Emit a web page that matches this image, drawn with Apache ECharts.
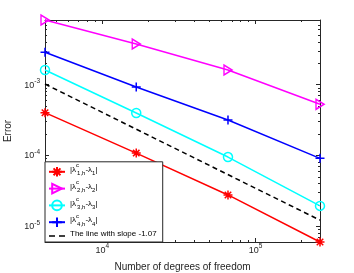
<!DOCTYPE html>
<html><head><meta charset="utf-8">
<script src="https://cdn.jsdelivr.net/npm/echarts@6/dist/echarts.min.js"></script>
<style>html,body{margin:0;padding:0;background:#fff}#c{width:354px;height:273px}</style>
</head><body><div id="c"></div>
<script>
// ---- data ----
const dofs = [4225, 16641, 66049, 263169];
const err1 = [4.02e-4, 1.08e-4, 2.77e-5, 6.0e-6];
const err2 = [8.18e-3, 3.75e-3, 1.61e-3, 5.28e-4];
const err3 = [1.61e-3, 3.98e-4, 9.5e-5, 1.94e-5];
const err4 = [2.86e-3, 9.27e-4, 3.17e-4, 9.1e-5];
const refDofs = [4225, 263169];
const refLine = [1.02e-3, 1.22e-5];
const xTickExponents = [4, 5];
const yTickExponents = [-5, -4, -3];
const seriesKeys = ['e1', 'e2', 'e3', 'e4', 'ref'];
const refLabel = 'The line with slope -1.07';
const xTitle = 'Number of degrees of freedom';
const yTitle = 'Error';

const FONT = 'Liberation Sans, Arial, Helvetica, sans-serif';
const AX = '#262626';
const L = Math.log10;

const xMin = L(Math.min(...dofs)), xMax = L(Math.max(...dofs));
const allErr = err1.concat(err2, err3, err4);
const yMin = L(Math.min(...allErr)), yMax = L(Math.max(...allErr));

function minorTicks(lo, hi) {
  const out = [];
  for (let d = Math.floor(lo) - 1; d <= Math.ceil(hi); d++) {
    for (let k = 2; k <= 9; k++) {
      const v = d + L(k);
      if (v > lo + 1e-9 && v < hi - 1e-9) out.push(v);
    }
  }
  return out;
}
const xMinor = minorTicks(xMin, xMax), yMinor = minorTicks(yMin, yMax);

const supRich = {
  b: {fontSize: 9, fontFamily: FONT, color: AX, lineHeight: 10, verticalAlign: 'bottom'},
  s: {fontSize: 6.5, fontFamily: FONT, color: AX, lineHeight: 7, padding: [0, 0, 5, 0], verticalAlign: 'bottom'}
};
function fmt(v) { return '{b|10}{s|' + Math.round(v) + '}'; }

function axis(dim, pos, ticks, len, labels, showLine, extra) {
  const isX = dim === 'x';
  return Object.assign({
    type: 'value', position: pos,
    min: isX ? xMin : yMin, max: isX ? xMax : yMax,
    axisLine: {show: showLine, onZero: false, lineStyle: {color: AX, width: 1}},
    axisTick: {show: true, inside: true, length: len, customValues: ticks, lineStyle: {color: AX, width: 1}},
    axisLabel: labels ? {show: true, customValues: labels, formatter: fmt, margin: isX ? 3 : 5, rich: supRich}
                      : {show: false},
    splitLine: {show: false}, minorTick: {show: false}
  }, extra || {});
}

const xAxes = [
  axis('x', 'bottom', xTickExponents, 4, xTickExponents, true, {
    name: xTitle, nameLocation: 'middle', nameGap: 20,
    nameTextStyle: {fontSize: 10, fontFamily: FONT, color: AX}
  }),
  axis('x', 'bottom', xMinor, 2, null, false),
  axis('x', 'top', xTickExponents, 4, null, true),
  axis('x', 'top', xMinor, 2, null, false)
];
const yAxes = [
  axis('y', 'left', yTickExponents, 4, yTickExponents, true, {
    name: yTitle, nameLocation: 'middle', nameGap: 21, nameRotate: 90,
    nameTextStyle: {fontSize: 10, fontFamily: FONT, color: AX}
  }),
  axis('y', 'left', yMinor, 2, null, false),
  axis('y', 'right', yTickExponents, 4, null, true),
  axis('y', 'right', yMinor, 2, null, false)
];

function pts(xs, ys) { return xs.map((x, i) => [L(x), L(ys[i])]); }

const STAR = 'path://M0,-1L0,1M-1,0L1,0M-0.72,-0.72L0.72,0.72M-0.72,0.72L0.72,-0.72';
const PLUS = 'path://M0,-1L0,1M-1,0L1,0';
const DASHES = 'path://M0,0H6V1.5H0Z M10,0H16V1.5H10Z';
const CLEAR = 'rgba(0,0,0,0)';

function ser(key, data, color, symbol, size, rotate, dashed) {
  return {
    name: key, type: 'line', data: data, clip: false, z: 3,
    xAxisIndex: 0, yAxisIndex: 0,
    symbol: symbol, symbolSize: size, symbolRotate: rotate || 0,
    showSymbol: symbol !== 'none',
    lineStyle: {color: color, width: 1.5, type: dashed ? [5, 3.5] : 'solid'},
    itemStyle: {color: symbol === 'none' ? color : CLEAR, borderColor: color, borderWidth: 1.5},
    emphasis: {disabled: true}, animation: false
  };
}

const series = [
  ser('e1', pts(dofs, err1), '#FF0000', STAR, 9),
  ser('e2', pts(dofs, err2), '#FF00FF', 'triangle', [10, 8], -90),
  ser('e3', pts(dofs, err3), '#00FFFF', 'circle', 9),
  ser('e4', pts(dofs, err4), '#0000FF', PLUS, 9),
  ser('ref', pts(refDofs, refLine), '#000000', 'none', 0, 0, true)
];

const legendText = {
  e1: '{t|\u007C\u03BB}{sp|c}{sb|1,h}{t|-\u03BB}{sb|1}{t|\u007C}',
  e2: '{t|\u007C\u03BB}{sp|c}{sb|2,h}{t|-\u03BB}{sb|2}{t|\u007C}',
  e3: '{t|\u007C\u03BB}{sp|c}{sb|3,h}{t|-\u03BB}{sb|3}{t|\u007C}',
  e4: '{t|\u007C\u03BB}{sp|c}{sb|4,h}{t|-\u03BB}{sb|4}{t|\u007C}',
  ref: '{t|' + refLabel + '}'
};

const legendData = seriesKeys.map(k => k === 'ref'
  ? {name: k, icon: DASHES, itemStyle: {color: '#000', borderWidth: 0}}
  : {name: k});

const chart = echarts.init(document.getElementById('c'), null, {renderer: 'canvas'});
chart.setOption({
  animation: false,
  backgroundColor: '#fff',
  grid: {left: 45, right: 34, top: 20, bottom: 31, containLabel: false, outerBoundsMode: 'none'},
  xAxis: xAxes,
  yAxis: yAxes,
  legend: {
    data: legendData, orient: 'vertical', left: 45, bottom: 31,
    backgroundColor: '#fff', borderColor: AX, borderWidth: 1, borderRadius: 0,
    padding: [1, 6, 1, 3], itemGap: 2, itemWidth: 16, itemHeight: 12,
    selectedMode: false, z: 10,
    formatter: n => legendText[n],
    textStyle: {
      fontSize: 8, fontFamily: FONT, color: '#000',
      rich: {
        t: {fontSize: 8, fontFamily: FONT, color: '#000', lineHeight: 10, padding: [0, 0, 3, 0], verticalAlign: 'bottom'},
        sp: {fontSize: 6, fontFamily: FONT, color: '#000', lineHeight: 6, width: 1, padding: [0, 0, 8, 0], verticalAlign: 'bottom'},
        sb: {fontSize: 6, fontFamily: FONT, color: '#000', lineHeight: 6, verticalAlign: 'bottom'}
      }
    }
  },
  series: series
});
</script></body></html>
